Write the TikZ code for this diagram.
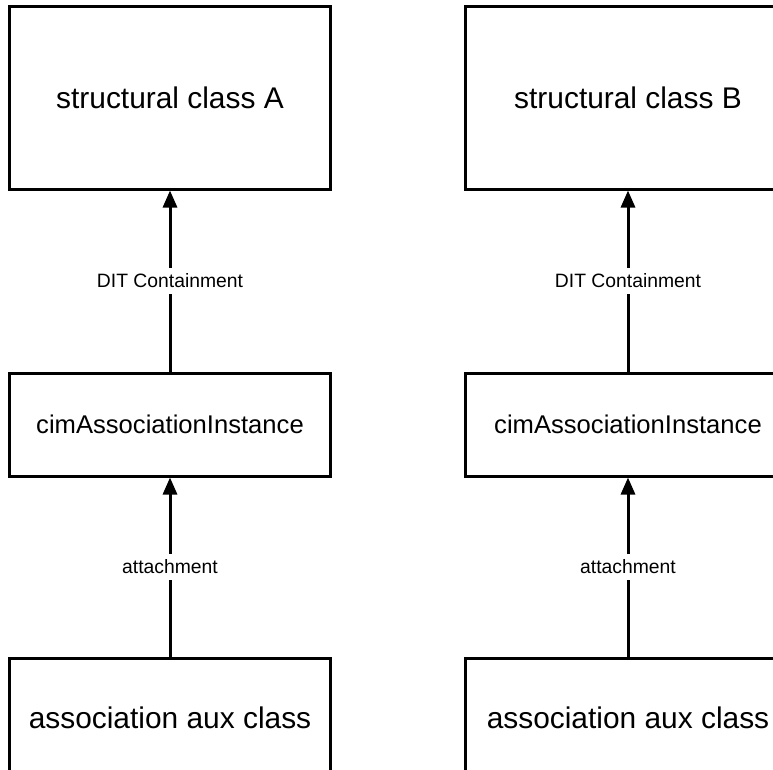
\documentclass[tikz,border=0pt]{standalone}
\usepackage{fontspec}
\setmainfont{Liberation Sans}
\usetikzlibrary{arrows.meta}
\tikzset{
  box/.style={draw=black, line width=3bp, fill=white, inner sep=0pt},
  bigtext/.style={font=\fontsize{30}{34}\selectfont},
  midtext/.style={font=\fontsize{25.7}{29}\selectfont},
  lbl/.style={font=\fontsize{19.4}{22}\selectfont, fill=white, draw=none, inner xsep=2bp, inner ysep=6bp},
  arr/.style={line width=3bp, -{Triangle[length=17bp,width=14bp]}}
}
\begin{document}
\begin{tikzpicture}[x=1bp,y=-1bp]
\clip (0,0) rectangle (773,770);
\fill[white] (0,0) rectangle (773,770);
% left column
\node[box, bigtext, minimum width=320bp, minimum height=182bp] (topA) at (170,98) {structural class A};
\node[box, midtext, minimum width=320bp, minimum height=103bp] (midA) at (170,424.5) {cimAssociationInstance};
\node[box, bigtext, minimum width=320bp, minimum height=120bp] (botA) at (170,718) {association aux class};
% right column
\node[box, bigtext, minimum width=326bp, minimum height=182bp] (topB) at (628,98) {structural class B};
\node[box, midtext, minimum width=326bp, minimum height=103bp] (midB) at (628,424.5) {cimAssociationInstance};
\node[box, bigtext, minimum width=326bp, minimum height=120bp] (botB) at (628,718) {association aux class};
% connectors
\draw[arr] (midA.north) -- (topA.south);
\draw[arr] (botA.north) -- (midA.south);
\draw[arr] (midB.north) -- (topB.south);
\draw[arr] (botB.north) -- (midB.south);
% connector labels
\path (midA.north) -- (topA.south) node[midway, lbl] (l1) {DIT Containment};
\path (botA.north) -- (midA.south) node[midway, lbl] (l2) {attachment};
\path (midB.north) -- (topB.south) node[midway, lbl] (l3) {DIT Containment};
\path (botB.north) -- (midB.south) node[midway, lbl] (l4) {attachment};
\end{tikzpicture}
\end{document}
